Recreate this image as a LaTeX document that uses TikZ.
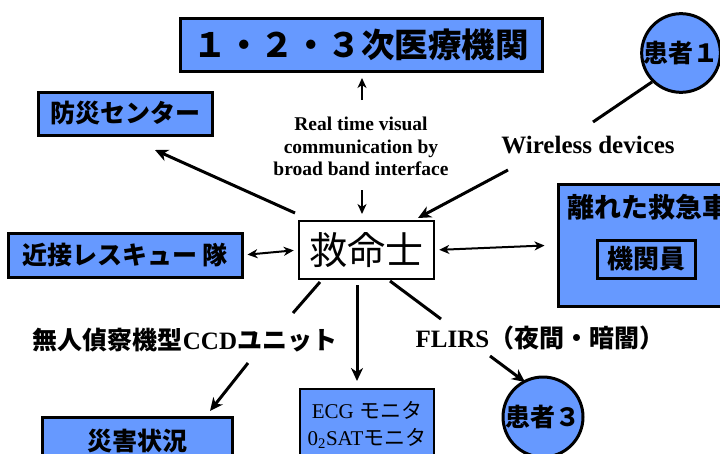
\documentclass[tikz,border=0pt]{standalone}
\usepackage{fontspec}
\setmainfont{Liberation Serif}
\newfontfamily\jp{Noto Sans CJK JP}
\usetikzlibrary{arrows.meta}
\definecolor{boxblue}{RGB}{102,153,255}
\newcommand{\fs}[1]{\fontsize{#1}{#1}\selectfont}
\begin{document}
\begin{tikzpicture}[x=1pt,y=-1pt,
  bluebox/.style={draw=black,fill=boxblue,line width=3pt,inner sep=0pt},
  bluecirc/.style={circle,draw=black,fill=boxblue,line width=3pt,inner sep=0pt,minimum size=78pt},
  lbl/.style={inner sep=0pt,text=black},
  arr/.style={line width=3pt,-{Stealth[length=13pt,width=12pt,inset=4pt]}},
  thinarr/.style={line width=2pt,-{Stealth[length=10pt,width=9pt,inset=3pt]}},
  dblarr/.style={line width=2pt,{Stealth[length=10pt,width=9pt,inset=3pt]}-{Stealth[length=10pt,width=9pt,inset=3pt]}},
  plain/.style={line width=3pt}]
\useasboundingbox (0,0) rectangle (720,453);
\clip (0,0) rectangle (720,453);
\fill[white] (0,0) rectangle (720,453);

% boxes
\node[bluebox,minimum width=362pt,minimum height=53pt,font=\jp\bfseries\fs{33.5}] (top) at (361,44.5) {１・２・３次医療機関};
\node[bluebox,minimum width=174pt,minimum height=43pt,font=\jp\bfseries\fs{25}] (bousai) at (125,113.5) {防災センター};
\node[bluebox,minimum width=234pt,minimum height=44pt,font=\jp\bfseries\fs{25}] (kinsetsu) at (125,255) {近接レスキュー 隊};
\node[draw=black,fill=white,line width=2.5pt,inner sep=0pt,minimum width=135pt,minimum height=58pt,font=\jp\fs{38}] (qms) at (366.5,250) {救命士};
\node[bluebox,minimum width=172pt,minimum height=122pt] (amb) at (644,245) {};
\node[lbl,anchor=west,font=\jp\bfseries\fs{27}] (ambT) at (567,207) {離れた救急車};
\node[bluebox,minimum width=98pt,minimum height=38pt,font=\jp\bfseries\fs{26}] (kikan) at (646,259) {機関員};
\node[bluebox,minimum width=190pt,minimum height=48pt,font=\jp\bfseries\fs{25}] (saigai) at (137,441) {災害状況};
\node[bluebox,line width=2.5pt,minimum width=134pt,minimum height=72pt,align=center,font=\fs{21}] (ecg) at (367,425)
  {\rule{0pt}{15pt}ECG {\jp モニタ}\\[6pt]0\textsubscript{2}SAT{\jp モニタ}};

% circles
\node[bluecirc,font=\jp\bfseries\fs{25}] (k1) at (681,53) {患者１};
\node[bluecirc,minimum size=80pt,font=\jp\bfseries\fs{25}] (k3) at (543,417) {患者３};

% labels
\node[lbl,align=center,font=\bfseries\fs{19.5},text depth=0pt] (rt) at (361,146.5)
  {Real time visual\\[3pt]communication by\\[3pt]broad band interface};
\node[lbl,font=\bfseries\fs{25}] (wl) at (588,145) {Wireless devices};
\node[lbl,font=\bfseries\fs{25}] (ccd) at (185,340) {{\jp 無人偵察機型}CCD{\jp ユニット}};
\node[lbl,font=\bfseries\fs{25}] (fl) at (540,338) {FLIRS{\jp （夜間・暗闇）}};

% connector end points
\coordinate (bsTip) at (155,150);
\coordinate (qmsNW) at (295,213);
\coordinate (wlStart) at (508,170);
\coordinate (qmsNE) at (418,218);
\coordinate (k1Line) at (593,122);
\coordinate (rtTop) at (362,100);
\coordinate (topTip) at (362,78);
\coordinate (rtBot) at (362,190);
\coordinate (qmsTop) at (362,214);
\coordinate (ccdTop) at (293,313);
\coordinate (qmsSW) at (320,282);
\coordinate (ccdBot) at (248,363);
\coordinate (saiTip) at (210,411);
\coordinate (qmsS) at (357,285);
\coordinate (ecgTip) at (357,381);
\coordinate (qmsSE) at (390,281);
\coordinate (flTop) at (441,319);
\coordinate (flBot) at (490,356);
\coordinate (k3Tip) at (525,382);

% connectors
\draw[thinarr] (rtTop) -- (topTip);
\draw[thinarr] (rtBot) -- (qmsTop);
\draw[arr] (qmsNW) -- (bsTip);
\draw[arr] (wlStart) -- (qmsNE);
\draw[plain] (k1.south west) -- (k1Line);
\draw[dblarr,shorten <=4pt,shorten >=4pt] (kinsetsu.east) -- (qms.west);
\draw[dblarr,shorten <=4pt,shorten >=12pt] (qms.east) -- (amb.west);
\draw[plain] (qmsSW) -- (ccdTop);
\draw[arr] (ccdBot) -- (saiTip);
\draw[arr] (qmsS) -- (ecgTip);
\draw[plain] (qmsSE) -- (flTop);
\draw[arr] (flBot) -- (k3Tip);
\end{tikzpicture}
\end{document}
